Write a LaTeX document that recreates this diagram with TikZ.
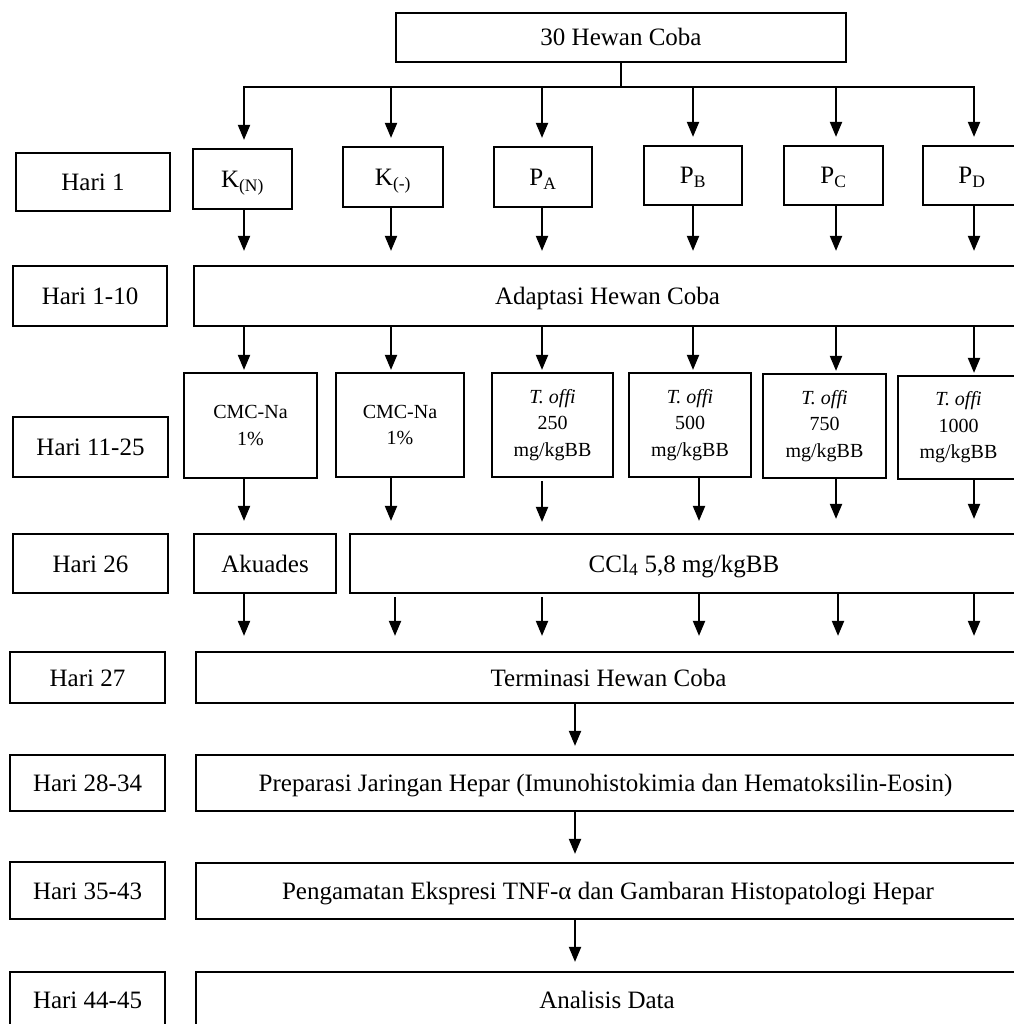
\documentclass[tikz,border=0pt]{standalone}
\usepackage{fontspec}
\setmainfont{Liberation Serif}
\usetikzlibrary{arrows.meta}
\tikzset{
  bxbase/.style={draw, line width=2.2pt, rectangle, inner sep=0pt, align=center},
  bx/.style={bxbase, font=\fontsize{25}{30}\selectfont, text height=17pt, text depth=0pt},
  sm/.style={bxbase, font=\fontsize{20}{26.6}\selectfont},
  arr/.style={line width=2pt, -{Triangle[width=12pt,length=15pt]}},
  ln/.style={line width=2pt},
}
\newcommand\mkbox[7][bx]{%
  \node[#1, minimum width={#4-#2}, minimum height={#5-#3}] (#7) at ({(#2+#4)/2},{(#3+#5)/2}) {#6};}
\begin{document}
\begin{tikzpicture}[x=1pt,y=-1pt]
\useasboundingbox[fill=white] (0,0) rectangle (1013,1024);
% top
\mkbox{396}{13}{846}{62}{30 Hewan Coba}{top}
% left column
\mkbox{16}{153}{170}{211}{Hari 1}{h1}
\mkbox{13}{266}{167}{326}{Hari 1-10}{h2}
\mkbox{13}{417}{168}{477}{Hari 11-25}{h3}
\mkbox{13}{534}{168}{593}{Hari 26}{h4}
\mkbox{10}{652}{165}{703}{Hari 27}{h5}
\mkbox{10}{755}{165}{811}{Hari 28-34}{h6}
\mkbox{10}{862}{165}{919}{Hari 35-43}{h7}
\mkbox{10}{972}{165}{1027}{Hari 44-45}{h8}
% row 1
\mkbox{193}{149}{292}{209}{K\textsubscript{(N)}}{a1}
\mkbox{343}{147}{443}{207}{K\textsubscript{(-)}}{a2}
\mkbox{494}{147}{592}{207}{P\textsubscript{A}}{a3}
\mkbox{644}{146}{742}{205}{P\textsubscript{B}}{a4}
\mkbox{784}{146}{883}{205}{P\textsubscript{C}}{a5}
\mkbox{923}{146}{1021}{205}{P\textsubscript{D}}{a6}
% adaptasi
\mkbox{194}{266}{1021}{326}{Adaptasi Hewan Coba}{adapt}
% row 3
\mkbox[sm]{184}{373}{317}{478}{CMC-Na\\1\%}{b1}
\mkbox[sm]{336}{373}{464}{477}{CMC-Na\\1\%}{b2}
\mkbox[sm]{492}{373}{613}{477}{\textit{T. offi}\\250\\mg/kgBB}{b3}
\mkbox[sm]{629}{373}{751}{477}{\textit{T. offi}\\500\\mg/kgBB}{b4}
\mkbox[sm]{763}{374}{886}{478}{\textit{T. offi}\\750\\mg/kgBB}{b5}
\mkbox[sm]{898}{376}{1019}{479}{\textit{T. offi}\\1000\\mg/kgBB}{b6}
% row 4
\mkbox{194}{534}{336}{593}{Akuades}{akua}
\mkbox{350}{534}{1018}{593}{CCl\textsubscript{4} 5,8 mg/kgBB}{ccl}
% bottom boxes
\mkbox{196}{652}{1021}{703}{Terminasi Hewan Coba}{term}
\mkbox{196}{755}{1015}{811}{Preparasi Jaringan Hepar (Imunohistokimia dan Hematoksilin-Eosin)}{prep}
\mkbox{196}{863}{1020}{919}{Pengamatan Ekspresi TNF-α dan Gambaran Histopatologi Hepar}{peng}
\mkbox{196}{972}{1018}{1027}{Analisis Data}{anal}
% bus
\draw[ln] (top.south) -- ++(0,24) coordinate (bus);
\coordinate (c1) at (244,86);
\coordinate (c2) at (391,86);
\coordinate (c3) at (542,86);
\coordinate (c4) at (693,86);
\coordinate (c5) at (836,86);
\coordinate (c6) at (974,86);
\draw[ln] ([xshift=-1pt]c1 |- bus) -- ([xshift=1pt]c6 |- bus);
\foreach \c/\n in {c1/a1,c2/a2,c3/a3,c4/a4,c5/a5,c6/a6}
  \draw[arr, shorten >=8pt] (\c |- bus) -- (\c |- \n.north);
% row1 -> adaptasi
\foreach \c/\n in {c1/a1,c2/a2,c3/a3,c4/a4,c5/a5,c6/a6}
  \draw[arr, shorten >=14pt] (\c |- \n.south) -- (\c |- adapt.north);
% adaptasi -> row3
\foreach \c/\n in {c1/b1,c2/b2,c3/b3,c4/b4,c5/b5,c6/b6}
  \draw[arr, shorten >=2pt] (\c |- adapt.south) -- (\c |- \n.north);
% row3 -> row4
\draw[arr, shorten >=12pt] (c1 |- b1.south) -- (c1 |- akua.north);
\draw[arr, shorten >=12pt] (c2 |- b2.south) -- (c2 |- ccl.north);
\draw[arr, shorten >=11pt, shorten <=3pt] (c3 |- b3.south) -- (c3 |- ccl.north);
\coordinate (d4) at (699,0);
\draw[arr, shorten >=12pt] (d4 |- b4.south) -- (d4 |- ccl.north);
\draw[arr, shorten >=14pt] (c5 |- b5.south) -- (c5 |- ccl.north);
\draw[arr, shorten >=14pt] (c6 |- b6.south) -- (c6 |- ccl.north);
% row4 -> terminasi
\coordinate (e2) at (395,0);
\draw[arr, shorten >=15pt] (c1 |- akua.south) -- (c1 |- term.north);
\draw[arr, shorten >=15pt, shorten <=3pt] (e2 |- ccl.south) -- (e2 |- term.north);
\draw[arr, shorten >=15pt, shorten <=3pt] (c3 |- ccl.south) -- (c3 |- term.north);
\draw[arr, shorten >=15pt] (d4 |- ccl.south) -- (d4 |- term.north);
\coordinate (e5) at (838,0);
\draw[arr, shorten >=15pt] (e5 |- ccl.south) -- (e5 |- term.north);
\draw[arr, shorten >=15pt] (c6 |- ccl.south) -- (c6 |- term.north);
% vertical chain
\coordinate (m) at (575,0);
\draw[arr, shorten >=8pt] (m |- term.south) -- (m |- prep.north);
\draw[arr, shorten >=8pt] (m |- prep.south) -- (m |- peng.north);
\draw[arr, shorten >=9pt] (m |- peng.south) -- (m |- anal.north);
\end{tikzpicture}
\end{document}
